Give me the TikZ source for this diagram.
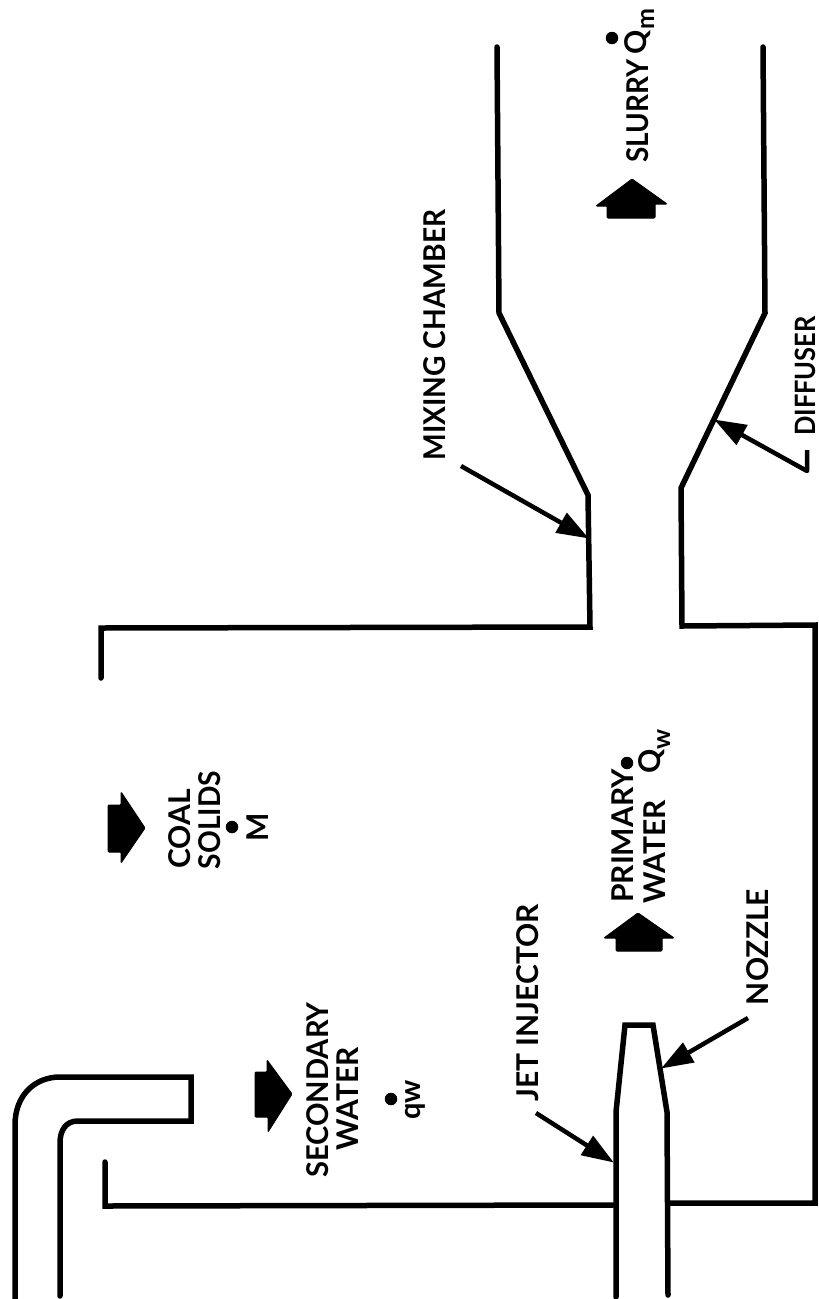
\documentclass[tikz,border=0pt]{standalone}
\usepackage{fontspec}
\setmainfont{Lato}
\usetikzlibrary{arrows.meta}
\tikzset{
  wall/.style={line width=5.5pt,line join=miter,line cap=round},
  leader/.style={line width=4.5pt,-{Triangle[length=32pt,width=22pt]},shorten >=-1pt},
  blockarrow/.style={fill=black,draw=black,line width=1pt,rounded corners=1pt},
  lab/.style={rotate=90,inner sep=0pt,font=\fontsize{30}{30}\selectfont\bfseries},
  sublab/.style={rotate=90,inner sep=0pt,font=\fontsize{25}{25}\selectfont\bfseries},
  dotmark/.style={circle,fill=black,inner sep=0pt,minimum size=12.5pt}
}
\begin{document}
\begin{tikzpicture}[x=1pt,y=-1pt]
\useasboundingbox (0,0) rectangle (819,1299);
% bent secondary-water pipe
\draw[wall] (15,1299) -- (15,1125) .. controls (15,1095) and (35,1077) .. (60,1077)
  -- (191,1077) -- (191,1121) -- (78,1121) .. controls (66,1121) and (60,1130) .. (60,1143) -- (60,1296);
% upper wall of the housing, mixing chamber, diffuser
\draw[wall] (105,1162) -- (105,1206) -- (613,1205);
\draw[wall] (101,678) -- (101,628) -- (590,627) -- (588,495) -- (499,313) -- (497,47);
% lower wall
\draw[wall] (763,47) -- (765,313) -- (681,488) -- (682,626) -- (815,625) -- (815,1203) -- (668,1203);
% jet injector with nozzle
\draw[wall] (616,1297) -- (616,1112) -- (625,1025) -- (653,1025) -- (667,1112) -- (668,1295);
% block arrows
\fill[blockarrow] (255,1072) -- (267,1072) -- (267,1060) -- (292,1094) -- (268,1132) -- (268,1117) -- (255,1117) -- cycle;
\fill[blockarrow] (108,805) -- (121,805) -- (121,792) -- (145,828) -- (121,863) -- (121,852) -- (108,852) -- cycle;
\fill[blockarrow] (616,951) -- (616,938) -- (604,938) -- (638,913) -- (674,938) -- (662,938) -- (662,951) -- cycle;
\fill[blockarrow] (607,218) -- (607,206) -- (596,206) -- (632,179) -- (667,204) -- (655,204) -- (655,218) -- cycle;
% dots
\node[dotmark] (dotq) at (391,1099) {};
\node[dotmark] (dotm) at (232,827) {};
\node[dotmark] (dotw) at (627,763) {};
\node[dotmark] (dots) at (612,38) {};
% labels
\node[lab] (secondary) at (318,1090) {\scalebox{0.97}[1]{SECONDARY}};
\node[lab] (secwater) at (348,1099) {WATER};
\node[sublab,font=\fontsize{29}{29}\selectfont\bfseries] (qw) at (415,1100) {qw};
\node[lab] (coal) at (180,829) {COAL};
\node[lab] (solids) at (210,820) {\scalebox{0.94}[1]{SOLIDS}};
\node[lab] (mm) at (258,827) {M};
\node[lab] (primary) at (623,836) {PRIMARY};
\node[lab] (priwater) at (655,852) {WATER};
\node[lab] (qbig) at (652,761) {Q};
\node[sublab] (wsub) at (664,739) {w};
\node[lab] (jet) at (528,1003) {JET INJECTOR};
\node[lab] (nozzle) at (758,947) {NOZZLE};
\node[lab] (mixing) at (435,335) {\scalebox{0.94}[1]{MIXING CHAMBER}};
\node[lab,font=\fontsize{28}{28}\selectfont\bfseries] (diffuser) at (805,376) {\scalebox{0.91}[1]{DIFFUSER}};
\node[lab] (slurry) at (638,111) {\scalebox{0.93}[1]{SLURRY}};
\node[lab] (qslurry) at (638,42) {Q};
\node[sublab] (msub) at (648,19) {m};
% leaders
\coordinate (jetfrom) at (536,1113);
\coordinate (jetto) at (613,1162);
\coordinate (nozfrom) at (748,1018);
\coordinate (nozto) at (662,1068);
\coordinate (mixfrom) at (461,466);
\coordinate (mixto) at (588,538);
\coordinate (diffa) at (807,450);
\coordinate (diffb) at (807,471);
\coordinate (diffto) at (715,420);
\draw[leader] (jetfrom) -- (jetto);
\draw[leader] (nozfrom) -- (nozto);
\draw[leader] (mixfrom) -- (mixto);
\draw[leader,line join=round] (diffa) -- (diffb) -- (diffto);
\end{tikzpicture}
\end{document}
